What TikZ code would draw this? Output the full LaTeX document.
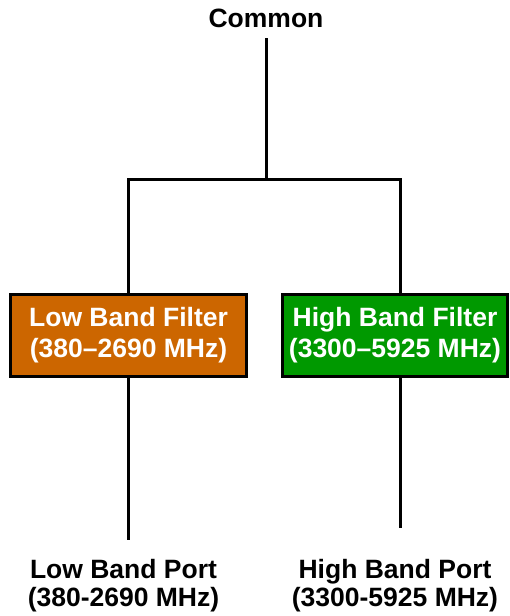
\documentclass[tikz,border=0pt]{standalone}
\usepackage{fontspec}
\setmainfont{Liberation Sans}
\usetikzlibrary{positioning}
\definecolor{lowband}{RGB}{204,102,0}
\definecolor{highband}{RGB}{0,153,0}

\begin{document}
\begin{tikzpicture}[x=1pt,y=-1pt,
    wire/.style={line width=3pt},
    filt/.style={draw=black, line width=3pt, text=white, align=center,
      font=\bfseries\fontsize{26.5}{31}\selectfont, minimum height=82pt, inner sep=0pt},
    tag/.style={font=\bfseries\fontsize{26.5}{28}\selectfont, align=center, inner sep=0pt}]
    \useasboundingbox (0,0) rectangle (510,616);
    % Common port and split point
    \node[tag, anchor=base] (common) at (266,27) {Common};
    \coordinate (split) at (266,179.5);
    % Filters
    \node[filt, fill=lowband, minimum width=236pt] (lowfilt) at (128.5,335.5) {Low Band Filter\\(380--2690 MHz)};
    \node[filt, fill=highband, minimum width=225pt] (highfilt) at (395,335.5) {High Band Filter\\(3300--5925 MHz)};
    % Output ports
    \node[tag, anchor=north] (lowport) at (123.5,559) {Low Band Port\\(380-2690 MHz)};
    \node[tag, anchor=north] (highport) at (395,559) {High Band Port\\(3300-5925 MHz)};
    % Wiring
    \draw[wire, shorten <=11pt] (common.south) -- (split);
    \draw[wire] (lowfilt.north) |- (split) -| ([xshift=5pt]highfilt.north);
    \draw[wire, shorten >=19pt] (lowfilt.south) -- (lowfilt.south |- lowport.north);
    \draw[wire, shorten >=31pt] ([xshift=5pt]highfilt.south) -- ([xshift=5pt]highfilt.south |- highport.north);
\end{tikzpicture}
\end{document}
